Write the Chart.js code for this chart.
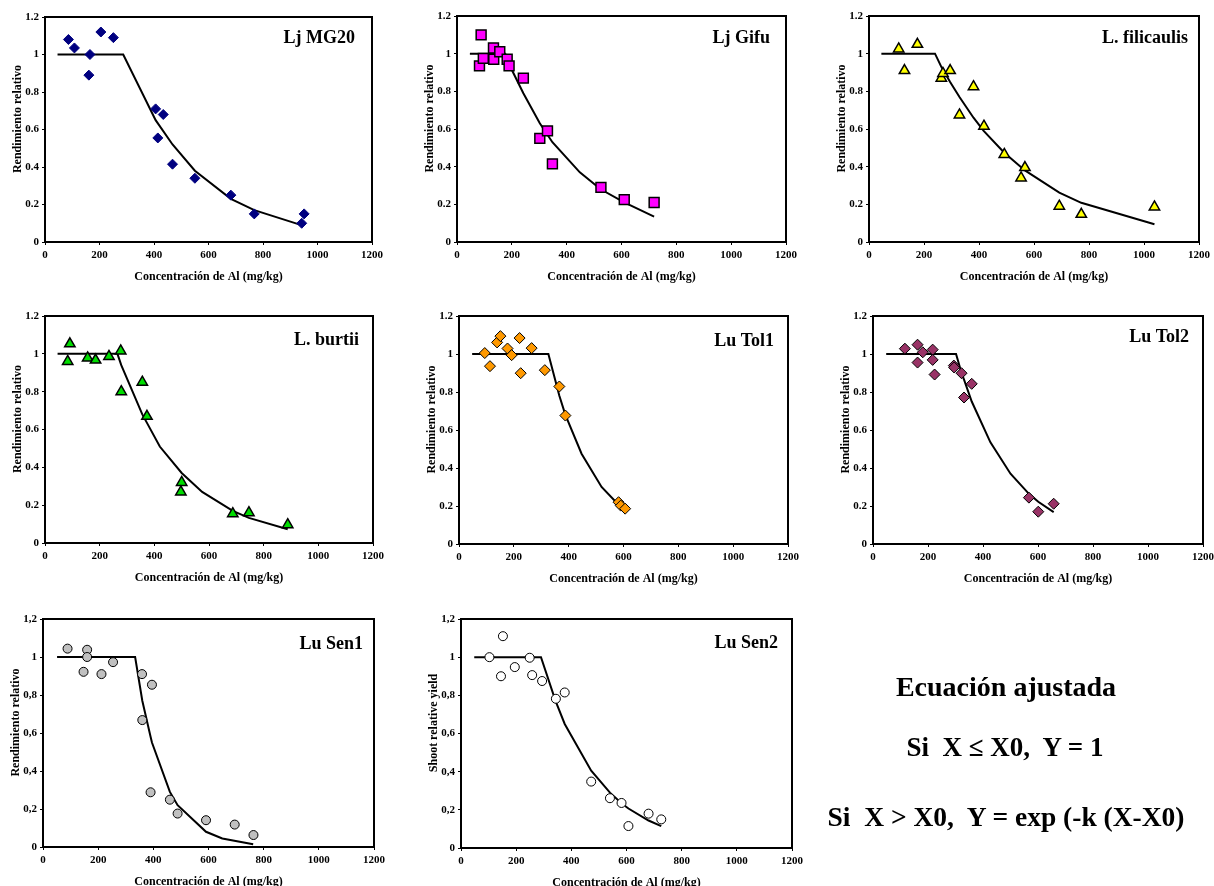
<!DOCTYPE html>
<html>
<head>
<meta charset="utf-8">
<script src="https://cdn.jsdelivr.net/npm/chart.js@4.4.1/dist/chart.umd.min.js"></script>
<style>
  html, body { margin: 0; padding: 0; background: #fff; width: 1214px; height: 886px; overflow: hidden; }
  canvas { position: absolute; }
  .eq { position: absolute; font-family: "Liberation Serif", "Times New Roman", serif; font-weight: bold; color: #000; text-align: center; line-height: 1; white-space: pre; }
</style>
</head>
<body>
<script>
// ---------------- DATA ----------------
const xTickLabels = ['0', '200', '400', '600', '800', '1000', '1200'];
const yTickDot = ['0', '0.2', '0.4', '0.6', '0.8', '1', '1.2'];
const yTickComma = ['0', '0,2', '0,4', '0,6', '0,8', '1', '1,2'];
const xTitle = 'Concentración de Al (mg/kg)';
const yTitleRend = 'Rendimiento relativo';
const yTitleShoot = 'Shoot relative yield';

const mg20X = [86, 108, 165, 161, 205, 251, 406, 434, 414, 468, 550, 682, 768, 942, 951];
const mg20Y = [1.08, 1.035, 1.0, 0.89, 1.12, 1.09, 0.71, 0.68, 0.555, 0.415, 0.34, 0.25, 0.15, 0.10, 0.15];
const mg20FitX = [46, 287, 406, 468, 550, 682, 768, 941];
const mg20FitY = [1, 1, 0.65, 0.52, 0.38, 0.23, 0.17, 0.09];

const gifuX = [88, 82, 96, 133, 134, 156, 183, 190, 242, 302, 330, 348, 525, 610, 719];
const gifuY = [1.10, 0.935, 0.975, 1.03, 0.97, 1.01, 0.97, 0.935, 0.87, 0.55, 0.59, 0.415, 0.29, 0.225, 0.21];
const gifuFitX = [47, 176, 198, 242, 302, 348, 448, 524, 610, 719];
const gifuFitY = [1, 1, 0.92, 0.79, 0.63, 0.53, 0.37, 0.28, 0.21, 0.135];

const filX = [108, 129, 176, 263, 269, 295, 329, 380, 418, 492, 553, 567, 692, 772, 1038];
const filY = [1.025, 0.91, 1.05, 0.87, 0.895, 0.91, 0.675, 0.825, 0.615, 0.465, 0.34, 0.395, 0.19, 0.147, 0.186];
const filFitX = [45, 240, 263, 295, 329, 380, 417, 491, 567, 692, 772, 1038];
const filFitY = [1, 1, 0.93, 0.85, 0.77, 0.66, 0.59, 0.475, 0.38, 0.262, 0.208, 0.094];

const burX = [83, 91, 156, 185, 234, 277, 279, 356, 373, 500, 497, 687, 746, 888];
const burY = [0.96, 1.053, 0.978, 0.967, 0.986, 1.015, 0.80, 0.85, 0.67, 0.32, 0.27, 0.155, 0.16, 0.097];
const burFitX = [46, 265, 279, 356, 373, 420, 500, 575, 687, 746, 888];
const burFitY = [1, 1, 0.94, 0.68, 0.635, 0.51, 0.37, 0.27, 0.17, 0.133, 0.073];

const tol1X = [94, 113, 139, 151, 177, 192, 221, 225, 265, 313, 366, 388, 582, 590, 606];
const tol1Y = [1.005, 0.936, 1.061, 1.094, 1.029, 0.994, 1.084, 0.899, 1.031, 0.915, 0.829, 0.676, 0.22, 0.202, 0.186];
const tol1FitX = [48, 326, 366, 388, 447, 520, 582, 590, 606];
const tol1FitY = [1, 1, 0.78, 0.68, 0.475, 0.30, 0.207, 0.197, 0.179];

const tol2X = [116, 162, 162, 181, 217, 217, 224, 294, 295, 322, 359, 331, 567, 601, 657];
const tol2Y = [1.028, 1.049, 0.955, 1.009, 1.023, 0.969, 0.892, 0.939, 0.929, 0.899, 0.843, 0.771, 0.244, 0.17, 0.212];
const tol2FitX = [48, 302, 322, 331, 359, 427, 500, 567, 601, 657];
const tol2FitY = [1, 1, 0.90, 0.865, 0.75, 0.535, 0.37, 0.264, 0.222, 0.168];

const sen1X = [89, 147, 160, 160, 212, 254, 359, 395, 360, 390, 460, 488, 591, 695, 763];
const sen1Y = [1.044, 0.922, 1.038, 1.0, 0.91, 0.973, 0.91, 0.854, 0.668, 0.288, 0.249, 0.176, 0.141, 0.118, 0.063];
const sen1FitX = [51, 334, 360, 390, 395, 460, 488, 591, 650, 762];
const sen1FitY = [1, 1, 0.77, 0.58, 0.55, 0.29, 0.22, 0.08, 0.045, 0.015];

const sen2X = [103, 145, 152, 195, 249, 258, 294, 344, 376, 472, 540, 582, 607, 680, 726];
const sen2Y = [1.0, 0.90, 1.11, 0.948, 0.997, 0.906, 0.875, 0.782, 0.815, 0.348, 0.261, 0.236, 0.115, 0.18, 0.15];
const sen2FitX = [48, 290, 343, 376, 472, 540, 582, 607, 680, 726];
const sen2FitY = [1, 1, 0.77, 0.65, 0.405, 0.29, 0.234, 0.207, 0.144, 0.115];

// ---------------- PANELS (layout + style) ----------------
const panels = [
  { name: 'Lj MG20', xs: mg20X, ys: mg20Y, fx: mg20FitX, fy: mg20FitY, yt: yTickDot, ytitle: yTitleRend,
    L: 45, R: 372, T: 17, B: 242, style: 'rectRot', r: 5, bg: '#000080', bc: '#000080', bw: 1, ti: 17, tb: 26 },
  { name: 'Lj Gifu', xs: gifuX, ys: gifuY, fx: gifuFitX, fy: gifuFitY, yt: yTickDot, ytitle: yTitleRend,
    L: 457, R: 786, T: 16, B: 242, style: 'rect', r: 7, bg: '#FF00FF', bc: '#000000', bw: 1.5, ti: 16, tb: 27 },
  { name: 'L. filicaulis', xs: filX, ys: filY, fx: filFitX, fy: filFitY, yt: yTickDot, ytitle: yTitleRend,
    L: 869, R: 1199, T: 16, B: 242, style: 'triangle', r: 6, bg: '#FFFF00', bc: '#000000', bw: 1.5, ti: 11, tb: 27 },
  { name: 'L. burtii', xs: burX, ys: burY, fx: burFitX, fy: burFitY, yt: yTickDot, ytitle: yTitleRend,
    L: 45, R: 373, T: 316, B: 543, style: 'triangle', r: 6, bg: '#00DD00', bc: '#000000', bw: 1.5, ti: 14, tb: 29 },
  { name: 'Lu Tol1', xs: tol1X, ys: tol1Y, fx: tol1FitX, fy: tol1FitY, yt: yTickDot, ytitle: yTitleRend,
    L: 459, R: 788, T: 316, B: 544, style: 'rectRot', r: 5.5, bg: '#FF9900', bc: '#000000', bw: 1, ti: 14, tb: 30 },
  { name: 'Lu Tol2', xs: tol2X, ys: tol2Y, fx: tol2FitX, fy: tol2FitY, yt: yTickDot, ytitle: yTitleRend,
    L: 873, R: 1203, T: 316, B: 544, style: 'rectRot', r: 5.5, bg: '#993366', bc: '#000000', bw: 1, ti: 14, tb: 26 },
  { name: 'Lu Sen1', xs: sen1X, ys: sen1Y, fx: sen1FitX, fy: sen1FitY, yt: yTickComma, ytitle: yTitleRend,
    L: 43, R: 374, T: 619, B: 847, style: 'circle', r: 4.5, bg: '#C0C0C0', bc: '#000000', bw: 1, ti: 11, tb: 30 },
  { name: 'Lu Sen2', xs: sen2X, ys: sen2Y, fx: sen2FitX, fy: sen2FitY, yt: yTickComma, ytitle: yTitleShoot,
    L: 461, R: 792, T: 619, B: 848, style: 'circle', r: 4.5, bg: '#FFFFFF', bc: '#000000', bw: 1, ti: 14, tb: 29 }
];

const FONT = '"Liberation Serif", "Times New Roman", serif';
const PADL = 45, PADT = 15, PADR = 22, PADB = 45;

panels.forEach(p => {
  const cv = document.createElement('canvas');
  const w = (p.R - p.L) + PADL + PADR;
  const h = (p.B - p.T) + PADT + PADB;
  cv.width = w; cv.height = h;
  cv.style.left = (p.L - PADL) + 'px';
  cv.style.top = (p.T - PADT) + 'px';
  cv.style.width = w + 'px'; cv.style.height = h + 'px';
  document.body.appendChild(cv);

  const pts = p.xs.map((x, i) => ({ x: x, y: p.ys[i] }));
  const fit = p.fx.map((x, i) => ({ x: x, y: p.fy[i] }));

  const panelPlugin = {
    id: 'panelDeco',
    afterDraw(chart) {
      const { ctx, chartArea: a } = chart;
      ctx.save();
      ctx.strokeStyle = '#000';
      ctx.lineWidth = 2;
      ctx.strokeRect(a.left, a.top, a.right - a.left, a.bottom - a.top);
      ctx.fillStyle = '#000';
      ctx.font = 'bold 18px ' + FONT;
      ctx.textAlign = 'right';
      ctx.textBaseline = 'alphabetic';
      ctx.fillText(p.name, a.right - p.ti, a.top + p.tb);
      ctx.restore();
    }
  };

  new Chart(cv, {
    type: 'scatter',
    data: {
      datasets: [
        { data: pts, showLine: false, pointStyle: p.style, pointRadius: p.r, pointHoverRadius: p.r,
          backgroundColor: p.bg, borderColor: p.bc, pointBorderWidth: p.bw, borderWidth: p.bw },
        { data: fit, showLine: true, pointRadius: 0, pointHoverRadius: 0, borderColor: '#000', borderWidth: 2,
          tension: 0, fill: false }
      ]
    },
    options: {
      responsive: false, animation: false, devicePixelRatio: 1,
      layout: { padding: { left: 0, top: PADT, right: PADR, bottom: 0 } },
      plugins: { legend: { display: false }, tooltip: { enabled: false }, title: { display: false } },
      events: [],
      scales: {
        x: {
          type: 'linear', min: 0, max: 1200,
          ticks: { stepSize: 200, color: '#000', padding: 4, maxRotation: 0, autoSkip: false,
                   font: { family: FONT, size: 11, weight: 'bold' },
                   callback: (v, i) => xTickLabels[i] },
          grid: { display: true, drawOnChartArea: false, drawTicks: true, tickLength: 3, color: '#000', lineWidth: 1 },
          border: { display: true, color: '#000', width: 2 },
          title: { display: true, text: xTitle, color: '#000', padding: { top: 0, bottom: 3 },
                   font: { family: FONT, size: 12, weight: 'bold' } },
          afterFit: s => { s.height = PADB; }
        },
        y: {
          type: 'linear', min: 0, max: 1.2,
          ticks: { stepSize: 0.2, color: '#000', padding: 3, autoSkip: false,
                   font: { family: FONT, size: 11, weight: 'bold' },
                   callback: (v, i) => p.yt[i] },
          grid: { display: true, drawOnChartArea: false, drawTicks: true, tickLength: 3, color: '#000', lineWidth: 1 },
          border: { display: true, color: '#000', width: 2 },
          title: { display: true, text: '\u00a0\u00a0\u00a0\u00a0\u00a0\u00a0\u00a0' + p.ytitle, color: '#000',
                   padding: { top: 11, bottom: 0 },
                   font: { family: FONT, size: 12, weight: 'bold' } },
          afterFit: s => { s.width = PADL; }
        }
      }
    },
    plugins: [panelPlugin]
  });
});

// Equation text
const eqLines = [
  { text: 'Ecuación ajustada', cx: 1006, top: 673, fs: 28 },
  { text: 'Si  X ≤ X0,  Y = 1', cx: 1005, top: 734, fs: 27 },
  { text: 'Si  X > X0,  Y = exp (-k (X-X0)', cx: 1006, top: 803, fs: 27.5 }
];
eqLines.forEach(l => {
  const d = document.createElement('div');
  d.className = 'eq';
  d.textContent = l.text;
  d.style.fontSize = l.fs + 'px';
  d.style.left = (l.cx - 200) + 'px';
  d.style.width = '400px';
  d.style.top = l.top + 'px';
  document.body.appendChild(d);
});
</script>
</body>
</html>
